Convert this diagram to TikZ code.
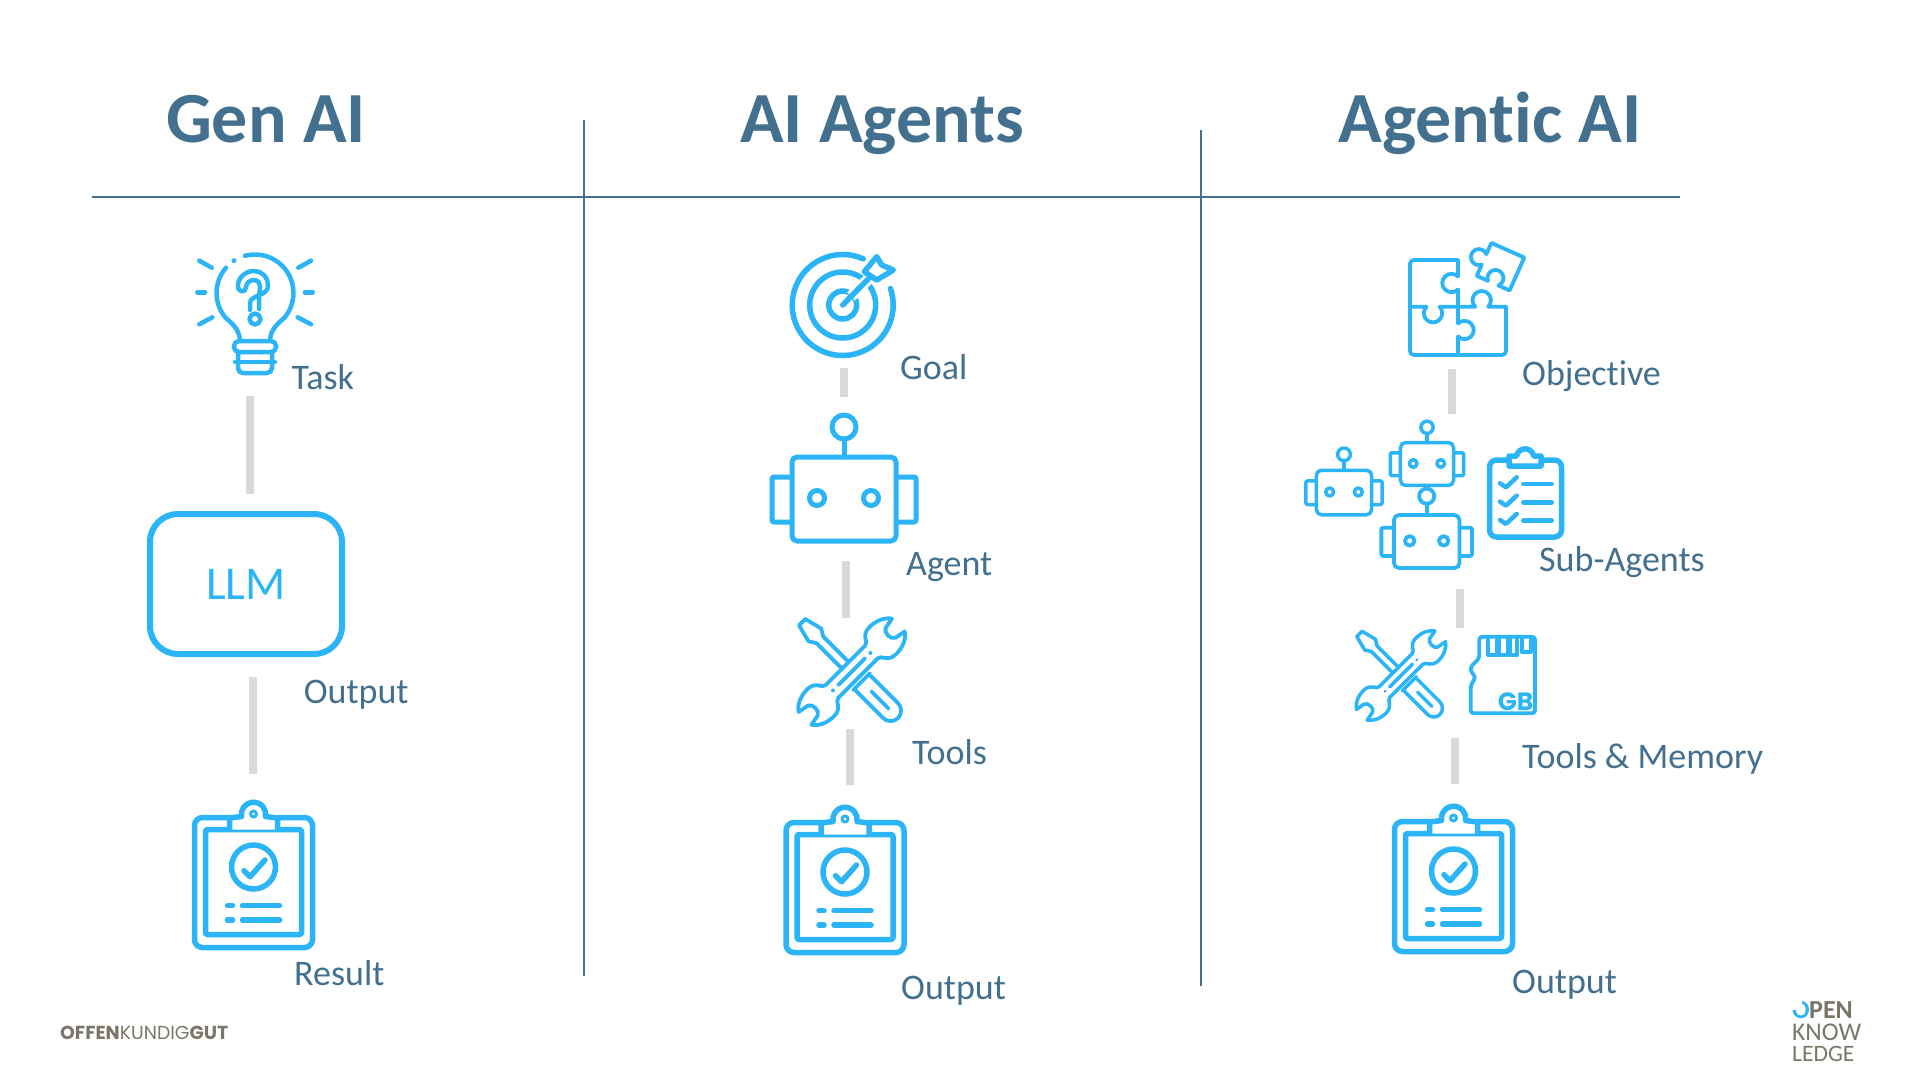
\documentclass[tikz,border=0pt]{standalone}
\usepackage{fontspec}
\setmainfont[Ligatures=NoCommon]{Carlito}
\newfontfamily\logofont{Poppins}
\definecolor{headblue}{HTML}{43708E}
\definecolor{iconblue}{HTML}{2BB5F6}
\definecolor{connGrey}{HTML}{D9D9D9}
\definecolor{logoGrey}{HTML}{7A7768}
\tikzset{
  heading/.style={text=headblue,font=\fontsize{72}{76}\selectfont\bfseries,anchor=base,inner sep=0pt},
  label/.style={text=headblue,font=\fontsize{36}{40}\selectfont,anchor=base west,inner sep=0pt},
  rule/.style={draw=headblue,line width=2pt},
  conn/.style={draw=connGrey,line width=8pt},
  icon/.style={draw=iconblue,line width=#1,line cap=round,line join=round},
  icon/.default=4.5pt,
  anchorbox/.style={inner sep=0pt,outer sep=0pt,minimum width=100pt},
}
% robot centred on its body
\newcommand{\robotIcon}[4]{%
\begin{scope}[shift={(#1,#2)},scale=#3,icon=#4]
  \draw[rounded corners=2pt] (-52,-22) -- (-72,-22) -- (-72,23) -- (-52,23);
  \draw[rounded corners=2pt] (52,-22) -- (72,-22) -- (72,23) -- (52,23);
  \draw[rounded corners=5pt] (-52,-42) rectangle (52,42);
  \draw (0,-60) -- (0,-42);
  \draw (0,-72) circle[radius=12];
  \draw (-27,-1) circle[radius=7.5];
  \draw (27,-1) circle[radius=7.5];
\end{scope}}
% clipboard with tick and two text lines
\newcommand{\reportIcon}[2]{%
\begin{scope}[shift={(#1,#2)},icon=5.5pt]
  \draw[rounded corners=8pt] (-24,-62.5) -- (-59,-62.5) -- (-59,67.5) -- (59,67.5) -- (59,-62.5) -- (24,-62.5);
  \draw[rounded corners=2pt] (-48,-50.5) rectangle (48,54.5);
  \draw[fill=white] (-24,-50.5) -- (-24,-62) -- (-12,-63.5) arc[start angle=170,end angle=370,radius=12.2] -- (24,-62) -- (24,-50.5);
  \draw[line width=3pt] (0,-66) circle[radius=3];
  \draw (0,-13) circle[radius=22];
  \draw (-9.5,-9.3) -- (-3.5,-3.3) -- (11.5,-20);
  \draw[line width=5.5pt] (-26,25.7) -- (-21,25.7);
  \draw[line width=5.5pt] (-11,25.7) -- (26,25.7);
  \draw[line width=5.5pt] (-26,40) -- (-21,40);
  \draw[line width=5.5pt] (-11,40) -- (26,40);
\end{scope}}
% crossed screwdriver and wrench
\newcommand{\toolsIcon}[4]{%
\begin{scope}[shift={(#1,#2)},scale=#3,icon=#4]
  \begin{scope}[rotate=45]
    \draw (-9,-4.7) -- (-45,-4.7) -- (-52,-9) -- (-70,-4.5) -- (-70,4.5) -- (-52,9) -- (-45,4.7) -- (-9,4.7);
    \draw (14,-12) -- (14,12);
    \draw (16,-10.5) -- (55,-10.5) arc[start angle=-90,end angle=90,radius=10.5] -- (16,10.5);
    \draw (28,0) -- (52,0);
  \end{scope}
  \begin{scope}[rotate=-45]
    \draw[fill=white] (-28,-9) -- (28,-9) .. controls (33,-9) and (32,-19) .. (44,-19) .. controls (54,-19) and (62,-15) .. (66,-9) -- (55,-7) .. controls (50,-5) and (50,5) .. (55,7) -- (66,9) .. controls (62,15) and (54,19) .. (44,19) .. controls (32,19) and (33,9) .. (28,9) -- (-28,9) .. controls (-33,9) and (-32,19) .. (-44,19) .. controls (-54,19) and (-62,15) .. (-66,9) -- (-55,7) .. controls (-50,5) and (-50,-5) .. (-55,-7) -- (-66,-9) .. controls (-62,-15) and (-54,-19) .. (-44,-19) .. controls (-32,-19) and (-33,-9) .. (-28,-9) -- cycle;
    \draw (-19,0) -- (19,0);
    \fill[iconblue] (-26.5,0) circle[radius=2];
    \fill[iconblue] (26.5,0) circle[radius=2];
  \end{scope}
\end{scope}}
\begin{document}
\begin{tikzpicture}[x=1pt,y=1pt,yscale=-1]
\useasboundingbox (0,0) rectangle (1920,1080);
\fill[white] (0,0) rectangle (1920,1080);

% headings and rules
\node[heading] (h1) at (266,142.5) {Gen AI};
\node[heading] (h2) at (882,142.5) {AI Agents};
\node[heading] (h3) at (1490,142.5) {Agentic AI};
\draw[rule] (92,196.5) -- (1680,196.5);
\draw[rule] (584,120) -- (584,976);
\draw[rule] (1200.5,130) -- (1200.5,986);

% invisible anchors: each box spans from the end of one connector to the start of the next
\node[anchorbox,minimum height=146pt] (bulb) at (250,323) {};
\node[anchorbox,minimum height=181pt] (result) at (253,864.5) {};
\node[anchorbox,minimum height=118pt] (goal) at (844,309) {};
\node[anchorbox,minimum height=164pt] (agent) at (846,479) {};
\node[anchorbox,minimum height=111pt] (tools) at (850,673.5) {};
\node[anchorbox,minimum height=175pt] (outB) at (850,872.5) {};
\node[anchorbox,minimum height=129pt] (puzzle) at (1452,304.5) {};
\node[anchorbox,minimum height=175pt] (subag) at (1460,501.5) {};
\node[anchorbox,minimum height=110pt] (toolmem) at (1455,683) {};
\node[anchorbox,minimum height=176pt] (outC) at (1455,872) {};

% LLM box
\node[draw=iconblue,line width=6pt,rounded corners=28pt,minimum width=192pt,minimum height=140pt,inner sep=0pt,outer sep=3pt,text=iconblue,font=\fontsize{47}{50}\selectfont] (llm) at (246,584) {\raisebox{-5pt}{LLM}};

% connectors
\draw[conn,shorten >=17pt] (bulb.south) -- (bulb.south |- llm.north);
\draw[conn,shorten <=20pt] (result.north |- llm.south) -- (result.north);
\draw[conn] (goal.south) -- (goal.south |- agent.north);
\draw[conn] (agent.south) -- (agent.south |- tools.north);
\draw[conn] (tools.south) -- (tools.south |- outB.north);
\draw[conn] (puzzle.south) -- (puzzle.south |- subag.north);
\draw[conn] (subag.south) -- (subag.south |- toolmem.north);
\draw[conn] (toolmem.south) -- (toolmem.south |- outC.north);

% bulb
\begin{scope}[icon=4.5pt]
  \draw (199.3,260.7) -- (211.7,267.7);
  \draw (197.3,292.3) -- (205,292.3);
  \draw (199.3,324.3) -- (212.3,317.3);
  \draw (298.3,267.7) -- (311,260.7);
  \draw (305,292.3) -- (312.7,292.3);
  \draw (297.7,317.3) -- (311,324.3);
  \fill[iconblue] (234,260.7) circle[radius=2.5];
  \draw (245,255.8) arc[start angle=255,end angle=400,radius=38.5] .. controls (276,325) and (271,330) .. (270,340);
  \draw (226,267.7) arc[start angle=221,end angle=140,radius=38.5] .. controls (234,325) and (239,330) .. (240,340);
  \draw[rounded corners=5pt] (234,341) rectangle (276,352);
  \draw[rounded corners=5pt] (238,352) -- (238,373) -- (272,373) -- (272,352);
  \draw (235,362) -- (275,362);
  \draw (250,310) -- (250,303) .. controls (250,295) and (268,296) .. (268,286) .. controls (268,276) and (261,271) .. (254,271) .. controls (246,271) and (238,277) .. (238,286) .. controls (238,293) and (246,293) .. (246,287) .. controls (246,283) and (250,280) .. (254,280) .. controls (258,280) and (260,283) .. (260,286) .. controls (260,291) and (259,293) .. (259,300) -- (259,309);
  \draw (255,319) circle[radius=5.5];
\end{scope}

% target
\begin{scope}[icon=5.5pt]
  \draw (842.7,305) ++(-19:50.5) arc[start angle=-19,end angle=294,radius=50.5];
  \draw (842.7,305) circle[radius=33];
  \draw (842.7,305) circle[radius=14];
  \draw[draw=white,line width=11pt,line cap=butt] (851,296.5) -- (872,275.5);
  \draw (842.7,305) -- (875,272);
  \draw[fill=white] (864.3,271.7) -- (876.7,256.7) -- (881.7,265) -- (893.3,270) -- (876.7,280) -- cycle;
\end{scope}

% puzzle
\begin{scope}[icon=3.8pt]
  \draw[rounded corners=4pt] (1458,260) -- (1410,260) -- (1410,355) -- (1506,355) -- (1506,306.7);
  \draw (1458,260) -- (1458,276.5) arc[start angle=-45,end angle=-315,radius=9.2] -- (1458,323.5) arc[start angle=225,end angle=495,radius=9.2] -- (1458,355);
  \draw (1410,306.7) -- (1426.5,306.7) arc[start angle=225,end angle=-45,radius=9.2] -- (1475.2,306.7) arc[start angle=135,end angle=405,radius=9.2] -- (1506,306.7);
  \begin{scope}[shift={(1500.5,266.7)},rotate=24]
    \draw (-18,-18) -- (18,-18) -- (18,18) -- (5.66,18) arc[start angle=45,end angle=-225,radius=8] -- (-18,18) -- (-18,5.66) arc[start angle=45,end angle=315,radius=8] -- cycle;
  \end{scope}
\end{scope}

% robots
\robotIcon{844}{499}{1}{5pt}
\robotIcon{1344}{492.5}{0.53}{3.5pt}
\robotIcon{1427}{464}{0.51}{3.5pt}
\robotIcon{1426.7}{541.5}{0.63}{3.8pt}

% checklist clipboard
\begin{scope}[icon=5.5pt]
  \draw[rounded corners=7pt] (1509,460) -- (1489.5,460) -- (1489.5,537) -- (1561.5,537) -- (1561.5,460) -- (1541,460);
  \draw[fill=white] (1509,466) -- (1509,456) -- (1516.5,456) arc[start angle=190,end angle=350,radius=8.7] -- (1541,456) -- (1541,466) -- cycle;
  \foreach \dy in {0,18.3,36.6}{
    \draw[line width=4.5pt] (1500,483.3+\dy) -- (1506,487.3+\dy) -- (1516.7,477.3+\dy);
    \draw[line width=4.5pt] (1523.3,484+\dy) -- (1551.7,484+\dy);
  }
\end{scope}

% tools
\toolsIcon{851.7}{671.7}{1}{3.8pt}
\toolsIcon{1401}{675.5}{0.84}{3.5pt}

% memory card
\begin{scope}[icon=3.8pt]
  \draw[rounded corners=3pt] (1479.3,636.7) -- (1535,636.7) -- (1535,713.3) -- (1470.7,713.3) -- (1470.7,685.7) -- (1475.7,676.7) -- (1470.7,671.7) -- (1470.7,666.7) -- (1479.3,658.3) -- cycle;
  \draw (1487.7,636.7) -- (1487.7,655) -- (1496.7,655) -- (1496.7,636.7);
  \draw (1499.3,636.7) -- (1499.3,655) -- (1507.7,655) -- (1507.7,636.7);
  \draw (1510,636.7) -- (1510,655) -- (1517.3,655) -- (1517.3,636.7);
  \draw (1521.7,636.7) -- (1521.7,651.7) -- (1530.7,651.7) -- (1530.7,636.7);
\end{scope}
\node[text=iconblue,inner sep=0pt,font=\logofont\bfseries\fontsize{25}{27}\selectfont] (gb) at (1515.5,701.5) {GB};

% clipboards
\reportIcon{253.5}{880}
\reportIcon{845}{885}
\reportIcon{1453.5}{884}

% labels
\node[label] (l1) at (291.4,389.4) {Task};
\node[label] (l2) at (303.7,703) {Output};
\node[label] (l3) at (294,985.7) {Result};
\node[label] (l4) at (900,379.6) {Goal};
\node[label] (l5) at (906,575.5) {Agent};
\node[label] (l6) at (912,764) {Tools};
\node[label] (l7) at (901,999) {Output};
\node[label] (l8) at (1522,385.7) {Objective};
\node[label] (l9) at (1539,571) {Sub-Agents};
\node[label] (l10) at (1522,768) {Tools \& Memory};
\node[label] (l11) at (1512,993) {Output};

% logos
\node[anchor=base west,inner sep=0pt,text=logoGrey,font=\logofont\fontsize{18.8}{20}\selectfont] (logoL) at (60,1039.5) {{\bfseries OFFEN}KUNDIG{\bfseries GUT}};
\begin{scope}
  \clip (1802,1000) -- (1815,1000) -- (1815,1022) -- (1788,1022) -- (1788,1010) -- (1802,1010) -- cycle;
  \node[anchor=base west,inner sep=0pt,text=iconblue,font=\fontsize{26}{28}\selectfont\bfseries] (logoO) at (1792,1018) {O};
\end{scope}
\node[anchor=base west,inner sep=0pt,text=logoGrey,font=\fontsize{26}{28}\selectfont\bfseries] (logoP) at (1809,1018) {PEN};
\node[anchor=base west,inner sep=0pt,text=logoGrey,font=\fontsize{25.5}{27}\selectfont] (logoK) at (1792,1040) {KNOW};
\node[anchor=base west,inner sep=0pt,text=logoGrey,font=\fontsize{23.5}{25}\selectfont] (logoE) at (1792,1061) {LEDGE};
\end{tikzpicture}
\end{document}
